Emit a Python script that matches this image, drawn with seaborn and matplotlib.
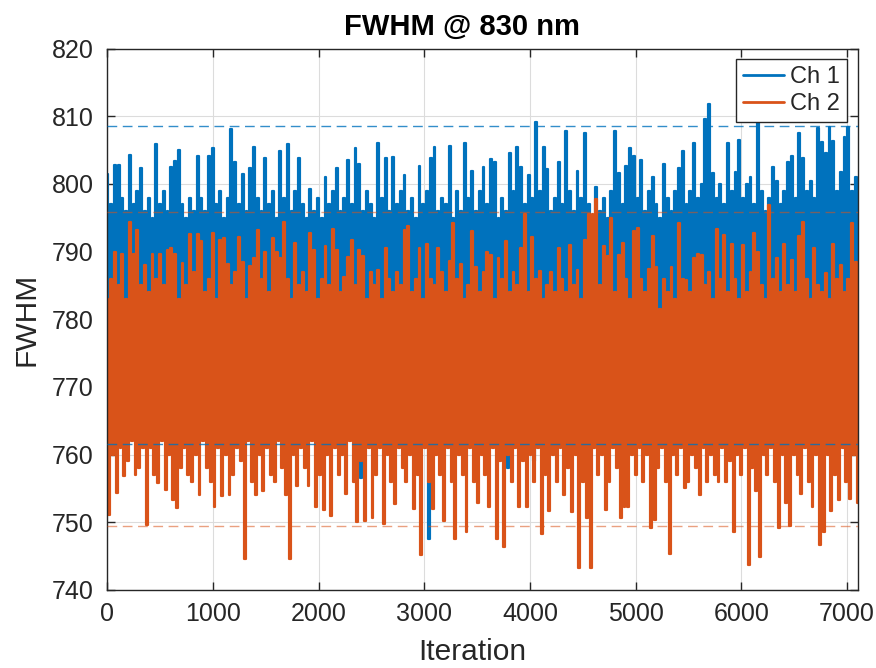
import numpy as np
import pandas as pd
import matplotlib
matplotlib.use("Agg")
import matplotlib.pyplot as plt
import seaborn as sns

# ---- data (upper / lower envelope per ~35.5-iteration bin) ----
n_iter = 7100
channels = ["Ch 1", "Ch 2"]

ch1_hi = [801.5, 797, 802.8, 802.8, 798, 796, 804.3, 797, 799, 802.4,
          796, 798, 795, 805.9, 797, 799, 796, 802.5, 803.4, 805,
          797, 795, 798, 796, 804.1, 798, 796, 804.1, 805.3, 797,
          799, 795, 798, 808.1, 803.2, 797, 801.5, 796, 802.4, 805.5,
          798, 796, 803.9, 797, 799, 795, 804.8, 798, 805.9, 796,
          799, 803.8, 797, 795, 799.2, 796, 798, 795, 801, 797,
          799, 802.4, 796, 798, 803.5, 797, 805.3, 803, 796, 799,
          797, 795, 806.1, 798, 803.9, 796, 804, 797, 799, 801.3,
          796, 798, 795, 802.7, 797, 799, 803.9, 805.4, 796, 798,
          797, 805.6, 795, 799, 796, 806, 798, 801.9, 796, 799,
          802.5, 797, 803.7, 803.3, 795, 798, 796, 804.6, 799, 805.5,
          802.5, 797, 801.3, 798, 809.1, 799, 805.4, 802.2, 796, 798,
          803.3, 797, 807.8, 799, 796, 801.9, 798, 807.5, 797, 795,
          799.6, 796, 798, 795, 799, 807.9, 801.6, 797, 802.7, 805.3,
          804.2, 798, 803.6, 796, 799, 801, 797, 795, 803, 798,
          796, 799, 802.3, 804.9, 797, 799, 806, 798, 800, 809.6,
          811.8, 801.6, 798, 800, 797, 806.1, 799, 801.8, 806.5, 798,
          800, 801, 797, 809.3, 799, 796, 798, 802.5, 800.5, 797,
          799, 803.2, 804.2, 798, 807.6, 803.8, 799, 800.5, 798, 808.3,
          806.2, 804.6, 808.4, 806.3, 799, 801.7, 806.9, 808.4, 799, 801]

ch1_lo = [763, 774, 771, 776, 772, 775, 768, 777, 773, 770,
          775, 772, 776, 771, 774, 778, 770, 773, 776, 772,
          774, 771, 777, 773, 770, 775, 772, 776, 771, 774,
          777, 772, 770, 775, 773, 776, 771, 774, 778, 772,
          770, 775, 773, 771, 776, 772, 774, 777, 770, 775,
          772, 776, 771, 774, 773, 770, 777, 772, 775, 771,
          774, 776, 772, 770, 775, 773, 771, 756.5, 774, 772,
          776, 771, 773, 775, 770, 774, 772, 777, 771, 773,
          775, 772, 770, 776, 773, 747.6, 771, 774, 772, 776,
          771, 773, 775, 770, 774, 772, 777, 771, 773, 775,
          772, 770, 776, 773, 771, 774, 758, 772, 775, 770,
          774, 772, 776, 759, 771, 773, 775, 770, 774, 772,
          776, 771, 773, 775, 770, 774, 772, 777, 771, 773,
          775, 772, 770, 776, 773, 771, 774, 772, 776, 771,
          773, 775, 770, 774, 772, 777, 771, 773, 775, 772,
          770, 776, 773, 771, 774, 772, 776, 770, 773, 775,
          771, 774, 772, 777, 770, 773, 775, 772, 776, 771,
          774, 772, 770, 775, 773, 771, 776, 772, 774, 770,
          775, 773, 771, 776, 772, 774, 770, 777, 772, 773,
          775, 771, 774, 772, 776, 770, 773, 775, 771, 774]

ch2_hi = [783, 786, 790, 785, 789.7, 783, 794.4, 789.7, 793.2, 785,
          788, 784, 789.6, 786, 789.7, 785, 790.3, 790.6, 789.6, 783,
          788.3, 785, 792.6, 787, 792.6, 791.6, 784, 786, 792.8, 783,
          791.7, 792, 788.2, 785, 787, 792.2, 788.4, 783, 787.9, 789,
          793.2, 786, 790, 784, 792, 790, 789, 794.4, 786, 783,
          791.3, 785, 787, 784, 792.8, 790.3, 783, 786, 790.9, 785,
          793.3, 790.3, 784, 786.3, 789.2, 791.7, 785, 790.3, 789.3, 783,
          787, 785, 787.3, 783, 790.6, 786, 784, 787, 785, 793.2,
          793.8, 784, 786, 790.6, 783, 791.2, 786, 785, 790.5, 787,
          784, 788.6, 794.3, 786, 788.2, 783, 785, 793.1, 787.7, 784,
          787, 789.9, 789.5, 783, 789, 786, 791.5, 784, 787, 785,
          790.5, 795.5, 784, 792.2, 786, 787.1, 783, 785, 787, 784,
          790.5, 786, 784, 791, 785, 787.3, 783, 791.7, 795.6, 795.5,
          797.8, 785, 790.8, 789.3, 794.9, 784, 789.5, 791.3, 786, 783,
          793, 793.5, 786, 784, 787.5, 792.3, 787.8, 781.5, 786, 784,
          787.8, 783, 794.2, 786, 785.8, 784, 789, 789.6, 789.5, 785,
          787, 783, 793.3, 786, 792.5, 784, 791.2, 786, 783, 791,
          784, 787, 792.7, 790, 785, 783, 796.9, 786, 789, 784,
          791.2, 785, 788.7, 784, 792.3, 794.4, 786, 783, 790.6, 785,
          784, 786.9, 783, 791.2, 786, 788, 784, 786, 794.2, 788.5]

ch2_lo = [751.1, 760, 754.3, 761, 756.8, 759, 762, 757, 758, 761,
          749.6, 761, 757, 755.8, 762, 754.8, 760, 753.3, 752.1, 758,
          761, 757, 755.9, 760, 754.1, 762, 758, 756, 752.3, 761,
          753.9, 760, 754.1, 757, 761, 759, 744.6, 762, 756, 754.1,
          760, 754.6, 761, 757, 756, 762, 758, 754, 744.6, 760,
          755.4, 761, 758, 755.4, 762, 752.3, 757, 751.8, 760, 750.9,
          761, 757, 760, 754.2, 762, 756, 750, 759, 750.2, 761,
          750.7, 757, 761, 749.7, 760, 756, 752.7, 761, 758, 756,
          760, 752, 757, 745.1, 761, 756, 751.9, 760, 757, 750.2,
          761, 756, 747.5, 760, 757, 748.5, 761, 756, 752.9, 760,
          757, 752.2, 761, 747.6, 759, 746.3, 760, 756, 761, 752.2,
          759, 752.2, 760, 756, 761, 748.2, 757, 751.7, 760, 756,
          761, 754.1, 758, 751.5, 760, 743.2, 756, 750.6, 743.2, 761,
          757, 760, 751.8, 756, 761, 758, 750.7, 752.2, 752.2, 760,
          757, 761, 756, 760, 749.2, 750.4, 758, 761, 756, 745.3,
          760, 757, 761, 755, 756, 760, 758, 754, 761, 756,
          760, 757, 756, 761, 756, 759, 748.5, 760, 757, 761,
          743.7, 758, 754.7, 744.9, 760, 757, 761, 756, 749.2, 760,
          752.8, 749.5, 760, 757, 754.2, 761, 756, 752.2, 760, 746.6,
          748.5, 760, 751.7, 757, 753.3, 761, 756, 753.4, 760, 752.8]

# dashed limit lines
ch1_limits = [808.5, 761.5]
ch2_limits = [795.9, 749.5]

x_ticks = [0, 1000, 2000, 3000, 4000, 5000, 6000, 7000]
y_ticks = [740, 750, 760, 770, 780, 790, 800, 810, 820]

blue = (0.0, 0.447, 0.741)
orange = (0.850, 0.325, 0.098)

# ---- build long table ----
def interleave(hi, lo):
    out = []
    for h, l in zip(hi, lo):
        out.extend([h, l])
    return out

frames = []
for name, hi, lo in [(channels[0], ch1_hi, ch1_lo), (channels[1], ch2_hi, ch2_lo)]:
    vals = interleave(hi, lo)
    it = np.linspace(0, n_iter, len(vals))
    frames.append(pd.DataFrame({"Iteration": it, "FWHM": vals, "Channel": name}))
df = pd.concat(frames, ignore_index=True)

sns.set_style("ticks")
plt.rcParams["font.family"] = ["Liberation Sans", "DejaVu Sans"]

fig = plt.figure(figsize=(8.76, 6.68), dpi=100)
ax = fig.add_axes([0.1225, 0.1168, 0.8566, 0.8104])

sns.lineplot(data=df, x="Iteration", y="FWHM", hue="Channel",
             palette=[blue, orange], estimator=None, sort=False,
             linewidth=1.55, drawstyle="steps-mid", legend=False, ax=ax)

for v in ch1_limits:
    ax.axhline(v, color=blue, alpha=0.8, lw=1.0, ls=(0, (7, 4)), zorder=5)
for v in ch2_limits:
    ax.axhline(v, color=orange, alpha=0.55, lw=1.0, ls=(0, (7, 4)), zorder=5)

ax.set_xlim(0, n_iter)
ax.set_ylim(740, 820)
ax.set_xticks(x_ticks)
ax.set_yticks(y_ticks)
ax.grid(True, color="#dcdcdc", lw=0.8)
ax.set_axisbelow(True)

for s in ax.spines.values():
    s.set_color("#262626")
    s.set_linewidth(1.0)
ax.tick_params(direction="in", length=5.5, width=1.0, color="#262626",
               top=True, right=True, labelsize=18, labelcolor="#262626")
ax.tick_params(axis="y", pad=10)
ax.tick_params(axis="x", pad=8.5)

ax.set_xlabel("Iteration", fontsize=21.5, color="#262626", labelpad=9, x=0.487)
ax.set_ylabel("FWHM", fontsize=21.5, color="#262626", labelpad=8)
ax.set_title("FWHM @ 830 nm", fontsize=21, fontweight="bold", color="black",
             pad=10, x=0.472)

handles = ax.get_lines()[:2]
leg = ax.legend(handles, channels, loc="upper right", fontsize=17,
                frameon=True, fancybox=False, framealpha=1, edgecolor="#262626",
                handlelength=1.75, handletextpad=0.25, borderpad=0.3,
                labelspacing=0.2, borderaxespad=0.45)
leg.get_frame().set_linewidth(1.0)
for l in leg.get_lines():
    l.set_linewidth(2)
    l.set_drawstyle("default")

fig.savefig("out.png", dpi=100)
